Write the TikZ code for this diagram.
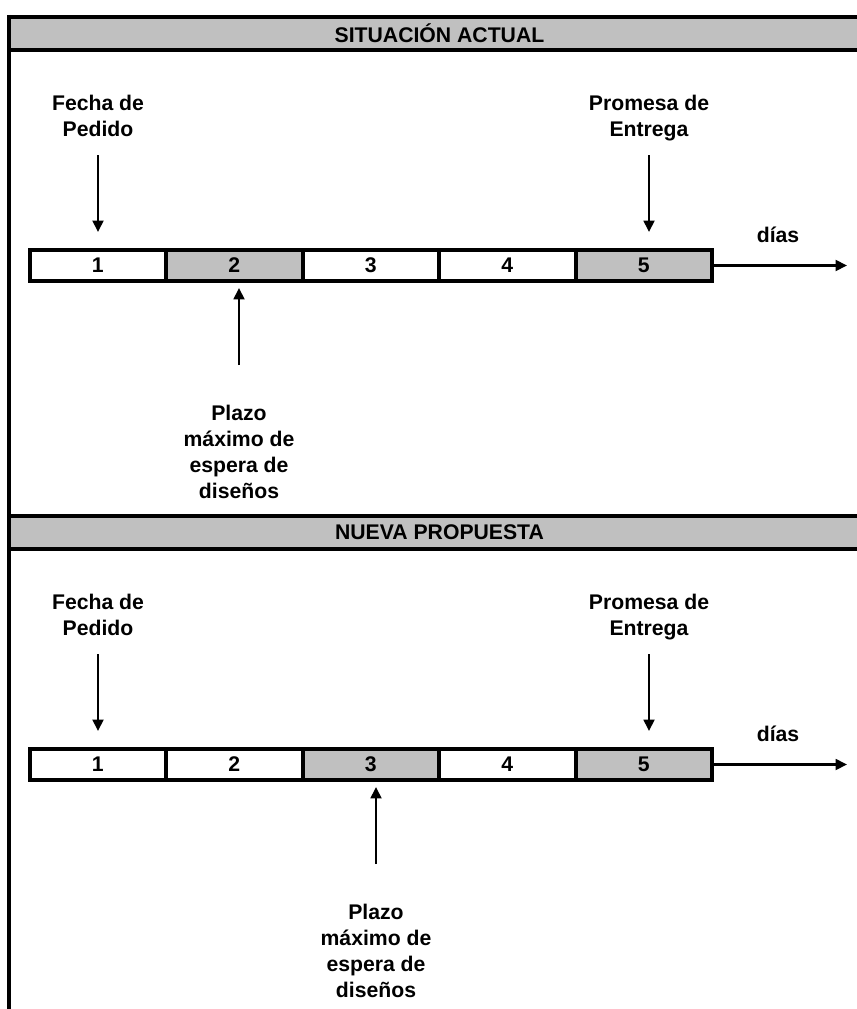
\documentclass[tikz,border=0pt]{standalone}
\usepackage{fontspec}
\setmainfont{Liberation Sans}
\usepackage{tikz}
\usetikzlibrary{arrows.meta, positioning}
\definecolor{gris}{RGB}{192,192,192}

\begin{document}
\begin{tikzpicture}[
  x=0.75pt, y=-0.75pt,
  >={Triangle[length=8.5pt,width=8pt]},
  texto/.style={font=\fontsize{15.9}{19.5}\selectfont\bfseries},
  encabezado/.style={texto, draw, line width=3pt, fill=gris,
    minimum width=645.75pt, minimum height=24.75pt, inner sep=0pt, outer sep=0pt},
  dia/.style={texto, draw, line width=3pt,
    minimum width=102.375pt, minimum height=23.25pt, inner sep=0pt, outer sep=0pt},
  etiqueta/.style={texto, align=center, inner sep=0pt, anchor=north, text depth=0pt},
  flecha/.style={->, line width=2pt},
  marco/.style={line width=3pt}
]
\useasboundingbox (0,0) rectangle (856,1009);

% Marco izquierdo
\draw[marco] (9,15) -- (9,1012);

% Situacion actual
\node[encabezado] (enc1) at (439.5,33.5) {SITUACIÓN ACTUAL};

\foreach \i/\col in {1/white, 2/gris, 3/white, 4/white, 5/gris} {
  \node[dia, fill=\col] (a\i) at ({29.5+136.5*(\i-0.5)},265.5) {\i};
}
\coordinate (fina) at (847,265.5);
\draw[flecha] (a5.east) -- (fina);
\node[texto] (diasa) at (778,235) {días};

\node[etiqueta] (fechaa) at (98,95) {Fecha de\\Pedido};
\node[etiqueta] (promesaa) at (649,95) {Promesa de\\Entrega};
\node[etiqueta] (plazoa) at (239,405) {Plazo\\máximo de\\espera de\\diseños};

\draw[flecha, shorten <=13.9pt, shorten >=13.5pt] (fechaa.south) -- (fechaa |- a1.north);
\draw[flecha, shorten <=13.9pt, shorten >=13.5pt] (promesaa.south) -- (promesaa |- a5.north);
\draw[flecha, shorten <=30pt, shorten >=5.25pt] (plazoa.north) -- (plazoa |- a2.south);

% Nueva propuesta
\node[encabezado] (enc2) at (439.5,532.5) {NUEVA PROPUESTA};

\foreach \i/\col in {1/white, 2/white, 3/gris, 4/white, 5/gris} {
  \node[dia, fill=\col] (b\i) at ({29.5+136.5*(\i-0.5)},764.5) {\i};
}
\coordinate (finb) at (847,764.5);
\draw[flecha] (b5.east) -- (finb);
\node[texto] (diasb) at (778,734) {días};

\node[etiqueta] (fechab) at (98,594) {Fecha de\\Pedido};
\node[etiqueta] (promesab) at (649,594) {Promesa de\\Entrega};
\node[etiqueta] (plazob) at (376,904) {Plazo\\máximo de\\espera de\\diseños};

\draw[flecha, shorten <=13.9pt, shorten >=13.5pt] (fechab.south) -- (fechab |- b1.north);
\draw[flecha, shorten <=13.9pt, shorten >=13.5pt] (promesab.south) -- (promesab |- b5.north);
\draw[flecha, shorten <=30pt, shorten >=5.25pt] (plazob.north) -- (plazob |- b3.south);

\end{tikzpicture}
\end{document}
